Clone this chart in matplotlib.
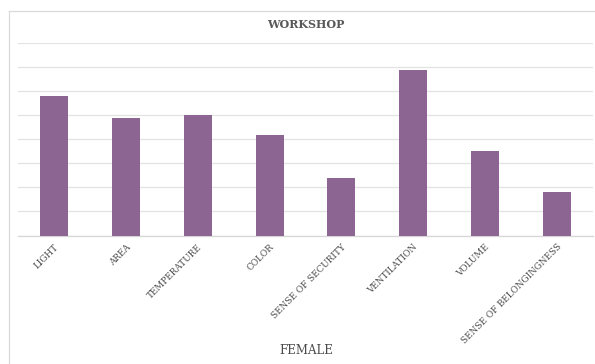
import matplotlib

matplotlib.use("Agg")
import matplotlib.pyplot as plt
from matplotlib.lines import Line2D

# Workshop ratings (female respondents)
categories = ["LIGHT", "AREA", "TEMPERATURE", "COLOR", "SENSE OF SECURITY",
              "VENTILATION", "VOLUME", "SENSE OF BELONGINGNESS"]
values = [5.8, 4.9, 5.0, 4.2, 2.4, 6.9, 3.5, 1.8]

bar_color = "#8C6592"
text_color = "#595959"

fig = plt.figure(figsize=(5.95, 3.64), dpi=100)
W, H = 595, 364

# chart frame border
fig.add_artist(Line2D([9 / W, 9 / W], [0, 1 - 11 / H], transform=fig.transFigure,
                      color="#D9D9D9", lw=0.9))
fig.add_artist(Line2D([9 / W, 1], [1 - 11 / H, 1 - 11 / H], transform=fig.transFigure,
                      color="#D9D9D9", lw=0.9))

ax = fig.add_axes([18 / W, 1 - 235.5 / H, 575 / W, (235.5 - 43.3) / H])
x = range(len(categories))
ax.bar(x, values, width=0.39, color=bar_color, zorder=3)

ax.set_xlim(-0.5, len(categories) - 0.5)
ax.set_ylim(0, 8)
ax.set_yticks(range(0, 9))
ax.set_yticklabels([])
ax.tick_params(axis="y", length=0)
ax.grid(axis="y", color="#E3E3E3", lw=0.9, zorder=0)
for s in ["top", "right", "left"]:
    ax.spines[s].set_visible(False)
ax.spines["bottom"].set_color("#D6D6D6")
ax.spines["bottom"].set_linewidth(0.9)

ax.set_xticks(list(x))
ax.set_xticklabels(categories, rotation=45, ha="right", rotation_mode="anchor",
                   fontsize=6.4, color="#4A4A4A", family="DejaVu Serif")
ax.tick_params(axis="x", length=0, pad=5)

fig.text(306 / W, 1 - 25 / H, "WORKSHOP", ha="center", va="center",
         fontsize=8, color=text_color, family="DejaVu Serif", fontweight="bold")
fig.text(306 / W, 1 - 351 / H, "FEMALE", ha="center", va="center",
         fontsize=8.5, color="#4A4A4A", family="DejaVu Serif")

fig.savefig("out.png", dpi=100)
